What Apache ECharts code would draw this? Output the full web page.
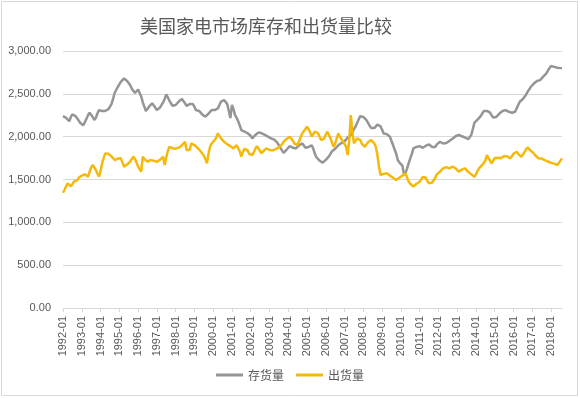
<!DOCTYPE html>
<html>
<head>
<meta charset="utf-8">
<script src="https://cdn.jsdelivr.net/npm/echarts@6/dist/echarts.min.js"></script>
<style>
  html, body { margin: 0; padding: 0; background: #fff; }
  #main { width: 580px; height: 398px; }
</style>
</head>
<body>
<div id="main"></div>
<script>
// 年份 1992 - 2018，逐月
const years = ['1992','1993','1994','1995','1996','1997','1998','1999','2000','2001','2002','2003','2004',
  '2005','2006','2007','2008','2009','2010','2011','2012','2013','2014','2015','2016','2017','2018']
const months = ['01','02','03','04','05','06','07','08','09','10','11','12']

// 存货量
const stock = [
  2240, 2250, 2220, 2200, 2180, 2230, 2260, 2250, 2240, 2220, 2190, 2160,
  2140, 2135, 2170, 2210, 2250, 2280, 2260, 2230, 2195, 2220, 2270, 2310,
  2330, 2300, 2290, 2300, 2310, 2320, 2330, 2380, 2440, 2510, 2545, 2580,
  2610, 2640, 2660, 2680, 2670, 2650, 2630, 2600, 2560, 2540, 2510, 2490,
  2550, 2530, 2470, 2400, 2350, 2300, 2320, 2350, 2370, 2390, 2370, 2340,
  2310, 2320, 2340, 2370, 2400, 2440, 2494, 2460, 2420, 2390, 2360, 2350,
  2370, 2390, 2410, 2430, 2440, 2420, 2390, 2360, 2370, 2380, 2395, 2380,
  2350, 2310, 2320, 2300, 2280, 2260, 2250, 2233, 2250, 2270, 2290, 2310,
  2330, 2310, 2290, 2330, 2370, 2408, 2420, 2427, 2410, 2380, 2300, 2217,
  2370, 2320, 2252, 2220, 2180, 2130, 2077, 2070, 2060, 2050, 2040, 2058,
  2010, 1980, 2000, 2020, 2040, 2050, 2058, 2040, 2030, 2020, 2019, 2000,
  1990, 1980, 1970, 1965, 1960, 1930, 1900, 1870, 1840, 1812, 1830, 1850,
  1870, 1890, 1880, 1870, 1865, 1863, 1880, 1900, 1915, 1921, 1900, 1870,
  1863, 1880, 1895, 1900, 1860, 1800, 1760, 1747, 1720, 1700, 1696, 1710,
  1730, 1747, 1770, 1800, 1830, 1844, 1860, 1880, 1900, 1910, 1925, 1941,
  1945, 1960, 1990, 2000, 2019, 2050, 2090, 2116, 2160, 2200, 2240, 2250,
  2230, 2210, 2194, 2160, 2130, 2100, 2085, 2100, 2120, 2140, 2155, 2120,
  2080, 2038, 2040, 2030, 2019, 2000, 1950, 1902, 1850, 1800, 1727, 1700,
  1680, 1660, 1552, 1580, 1630, 1690, 1747, 1800, 1863, 1870, 1880, 1885,
  1890, 1880, 1870, 1882, 1895, 1905, 1910, 1900, 1880, 1863, 1880, 1910,
  1930, 1941, 1930, 1920, 1914, 1925, 1940, 1950, 1960, 1975, 1990, 2005,
  2015, 2019, 2010, 2005, 2000, 1990, 1980, 1970, 1960, 2020, 2090, 2163,
  2180, 2200, 2213, 2240, 2270, 2299, 2310, 2300, 2310, 2280, 2250, 2225,
  2225, 2230, 2250, 2270, 2290, 2300, 2305, 2310, 2300, 2290, 2285, 2280,
  2280, 2290, 2330, 2370, 2408, 2420, 2440, 2447, 2490, 2524, 2550, 2580,
  2600, 2620, 2641, 2650, 2655, 2660, 2680, 2700, 2720, 2738, 2770, 2800,
  2824, 2820, 2815, 2810, 2805, 2810, 2800, 2797
]

// 出货量
const shipment = [
  1345, 1380, 1420, 1455, 1440, 1420, 1440, 1474, 1470, 1490, 1520, 1532,
  1545, 1550, 1560, 1545, 1532, 1590, 1640, 1669, 1640, 1610, 1570, 1532,
  1600, 1689, 1750, 1805, 1810, 1800, 1785, 1770, 1750, 1727, 1735, 1745,
  1740, 1747, 1700, 1650, 1660, 1675, 1689, 1710, 1740, 1766, 1740, 1700,
  1650, 1620, 1591, 1766, 1740, 1720, 1708, 1715, 1727, 1727, 1720, 1710,
  1705, 1708, 1730, 1750, 1766, 1669, 1760, 1830, 1882, 1875, 1865, 1863,
  1860, 1850, 1870, 1880, 1900, 1920, 1941, 1844, 1860, 1844, 1921, 1902,
  1902, 1882, 1870, 1850, 1830, 1805, 1780, 1740, 1689, 1800, 1882, 1920,
  1940, 1960, 1990, 2038, 2010, 1980, 1960, 1940, 1920, 1910, 1902, 1890,
  1870, 1863, 1880, 1900, 1921, 1830, 1766, 1820, 1860, 1882, 1840, 1800,
  1790, 1785, 1820, 1860, 1890, 1860, 1830, 1805, 1830, 1850, 1863, 1850,
  1845, 1850, 1840, 1844, 1855, 1865, 1875, 1882, 1910, 1940, 1960, 1975,
  1990, 2000, 1980, 1950, 1920, 1910, 1902, 1950, 2000, 2040, 2058, 2090,
  2116, 2090, 2050, 2000, 2030, 2060, 2077, 2040, 2000, 1960, 1941, 1980,
  2030, 2058, 2020, 1980, 1930, 1882, 1920, 1980, 2038, 2000, 1970, 1945,
  1941, 1880, 1785, 1960, 2252, 2050, 1921, 1950, 1980, 2000, 1960, 1920,
  1900, 1882, 1910, 1935, 1950, 1960, 1940, 1921, 1882, 1785, 1650, 1552,
  1560, 1565, 1570, 1572, 1560, 1545, 1532, 1520, 1505, 1494, 1505, 1520,
  1532, 1545, 1560, 1572, 1520, 1474, 1450, 1430, 1416, 1430, 1450, 1465,
  1474, 1500, 1530, 1552, 1520, 1480, 1455, 1460, 1465, 1474, 1520, 1560,
  1580, 1591, 1610, 1630, 1650, 1645, 1635, 1630, 1640, 1650, 1655, 1630,
  1610, 1591, 1600, 1615, 1625, 1630, 1610, 1590, 1572, 1560, 1545, 1532,
  1560, 1600, 1630, 1650, 1670, 1689, 1720, 1785, 1750, 1720, 1689, 1720,
  1750, 1766, 1755, 1750, 1747, 1765, 1775, 1785, 1770, 1755, 1747, 1770,
  1800, 1815, 1824, 1800, 1780, 1766, 1790, 1820, 1850, 1875, 1860, 1835,
  1815, 1805, 1780, 1760, 1747, 1760, 1745, 1735, 1727, 1720, 1710, 1705,
  1696, 1690, 1685, 1675, 1669, 1690, 1720, 1747
]

// 类目：年-月
const dates = []
years.forEach(y => months.forEach(m => dates.push(y + '-' + m)))
dates.length = stock.length

const myChart = echarts.init(document.querySelector('#main'))

const option = {
  animation: false,
  title: {
    text: '美国家电市场库存和出货量比较',
    left: 261,
    textAlign: 'center',
    top: 12,
    textStyle: {
      fontSize: 18,
      fontWeight: 'normal',
      color: '#595959',
      fontFamily: 'Noto Sans CJK SC'
    }
  },
  legend: {
    bottom: 12,
    left: 'center',
    itemWidth: 27,
    itemHeight: 3,
    itemGap: 12,
    icon: 'rect',
    textStyle: {
      color: '#595959',
      fontSize: 12,
      fontFamily: 'Noto Sans CJK SC'
    },
    data: ['存货量', '出货量']
  },
  grid: {
    left: 63,
    right: 18,
    top: 51,
    bottom: 90
  },
  graphic: [
    {
      type: 'rect',
      shape: { x: 1.5, y: 1.5, width: 576, height: 394 },
      style: { fill: 'none', stroke: '#d9d9d9', lineWidth: 1 },
      silent: true
    }
  ],
  xAxis: {
    type: 'category',
    boundaryGap: false,
    data: dates,
    axisLine: { lineStyle: { color: '#d9d9d9' } },
    axisTick: {
      interval: 11,
      length: 4,
      lineStyle: { color: '#d9d9d9' }
    },
    axisLabel: {
      interval: 11,
      rotate: 90,
      margin: 8,
      fontSize: 11,
      color: '#595959',
      fontFamily: 'Liberation Sans'
    }
  },
  yAxis: {
    type: 'value',
    min: 0,
    max: 3000,
    interval: 500,
    axisLine: { show: false },
    axisTick: { show: false },
    splitLine: { lineStyle: { color: '#d9d9d9' } },
    axisLabel: {
      margin: 12,
      fontSize: 11,
      color: '#595959',
      fontFamily: 'Liberation Sans',
      formatter: v => v.toLocaleString('en-US', { minimumFractionDigits: 2, maximumFractionDigits: 2 })
    }
  },
  series: [
    {
      name: '存货量',
      type: 'line',
      data: stock,
      showSymbol: false,
      color: '#959595',
      lineStyle: { width: 2.5, color: '#959595' }
    },
    {
      name: '出货量',
      type: 'line',
      data: shipment,
      showSymbol: false,
      color: '#f5b90a',
      lineStyle: { width: 2.5, color: '#f5b90a' }
    }
  ]
}

myChart.setOption(option)
</script>
</body>
</html>
